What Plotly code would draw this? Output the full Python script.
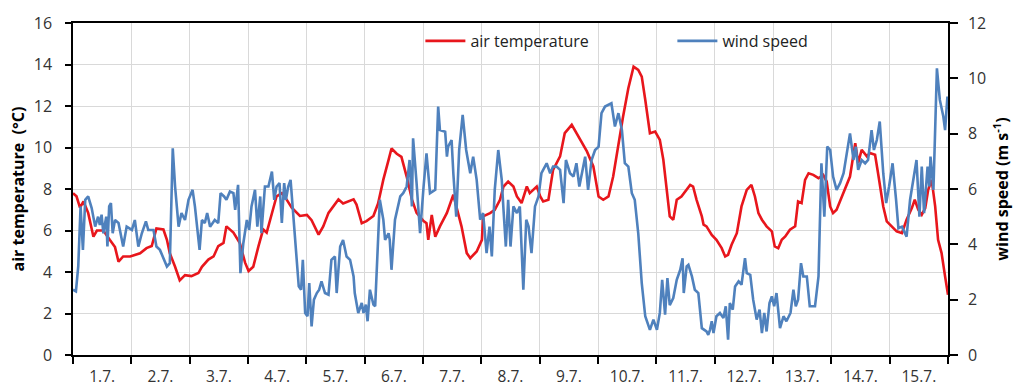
import pandas as pd
import plotly.graph_objects as go

# ---------------- data ----------------
start_date = "2013-07-01"
end_date = "2013-07-16"

temp_days = [0.00, 0.06, 0.12, 0.18, 0.26, 0.35, 0.41, 0.52, 0.63, 0.72, 0.78, 0.86, 0.98,
             1.15, 1.26, 1.35, 1.43, 1.55, 1.61, 1.66, 1.75, 1.83, 1.92, 2.03, 2.15, 2.21,
             2.32, 2.41, 2.49, 2.58, 2.63, 2.75, 2.86, 2.95, 3.01, 3.09, 3.18, 3.26, 3.32,
             3.41, 3.49, 3.58, 3.66, 3.75, 3.89, 4.01, 4.09, 4.21, 4.29, 4.38,
             4.55, 4.63, 4.72, 4.81, 4.86, 4.95, 5.03, 5.15, 5.23, 5.32, 5.41, 5.46, 5.55,
             5.63, 5.72, 5.81, 5.89, 6.01, 6.06, 6.09, 6.15, 6.21, 6.29, 6.41, 6.52, 6.66,
             6.75, 6.81, 6.92, 7.01, 7.03, 7.15, 7.23, 7.32, 7.38, 7.46, 7.55, 7.61, 7.69,
             7.78, 7.83, 7.95, 8.01, 8.06, 8.15, 8.23, 8.35, 8.43, 8.55, 8.63, 8.72, 8.81,
             8.92, 9.01, 9.09, 9.18, 9.26, 9.35, 9.43, 9.52, 9.61, 9.69, 9.75, 9.81, 9.89,
             9.98, 10.06, 10.12, 10.18, 10.23, 10.29, 10.35, 10.43, 10.52, 10.58, 10.63,
             10.69, 10.78, 10.81, 10.86, 10.95, 11.03, 11.12, 11.18, 11.23, 11.29, 11.38,
             11.46, 11.55, 11.63, 11.69, 11.75, 11.81, 11.89, 11.98, 12.03, 12.09, 12.15,
             12.21, 12.29, 12.38, 12.43, 12.49, 12.55, 12.61, 12.69, 12.78, 12.86, 12.92,
             12.98, 13.03, 13.09, 13.18, 13.23, 13.32, 13.41, 13.46, 13.52, 13.61, 13.66,
             13.75, 13.81, 13.89, 13.95, 14.03, 14.12, 14.21, 14.29, 14.38, 14.43, 14.49,
             14.55, 14.61, 14.66, 14.72, 14.78, 14.83, 14.89, 14.95, 15.00]
temp_values = [7.8, 7.65, 7.1, 7.4, 6.85, 5.7, 6.0, 6.0, 5.55, 5.2, 4.5, 4.75, 4.75,
               4.9, 5.15, 5.25, 6.1, 6.05, 5.55, 4.9, 4.25, 3.6, 3.85, 3.8, 3.95, 4.25,
               4.6, 4.75, 5.25, 5.4, 6.2, 5.9, 5.4, 4.45, 4.05, 4.25, 5.25, 6.05, 5.9,
               6.85, 7.65, 7.8, 7.5, 7.1, 6.7, 6.75, 6.5, 5.8, 6.2, 6.85,
               7.5, 7.3, 7.4, 7.5, 7.25, 6.35, 6.45, 6.7, 7.3, 8.45, 9.4, 9.95, 9.7,
               9.55, 8.6, 7.5, 6.85, 6.45, 6.35, 5.55, 6.75, 5.7, 6.2, 6.85, 7.72, 6.2,
               4.91, 4.67, 4.99, 5.55, 6.68, 6.84, 7.0, 7.48, 8.12, 8.36, 8.12, 7.64, 7.32,
               8.12, 7.8, 8.12, 7.64, 7.4, 7.48, 8.92, 9.57, 10.69, 11.09, 10.69, 10.21, 9.81,
               9.09, 7.64, 7.48, 7.64, 8.6, 10.21, 11.49, 12.86, 13.9, 13.74, 13.42, 12.3, 10.69,
               10.77, 10.37, 9.41, 7.8, 6.68, 6.52, 7.48, 7.64, 7.96, 8.2, 8.12,
               7.48, 6.68, 6.28, 6.2, 5.79, 5.55, 5.15, 4.75, 4.83, 5.31, 5.87,
               7.16, 7.96, 8.2, 7.64, 6.84, 6.52, 6.2, 5.96, 5.23, 5.15, 5.55,
               5.71, 6.04, 6.2, 7.4, 7.32, 8.44, 8.76, 8.68, 8.52, 8.68, 8.36,
               7.16, 6.84, 7.0, 7.64, 7.96, 8.6, 10.21, 9.25, 9.89, 9.57, 9.73,
               9.65, 8.6, 7.16, 6.44, 6.2, 5.96, 5.87, 6.52, 7.08, 7.48, 7.0,
               6.76, 7.08, 7.96, 8.44, 7.16, 5.55, 4.91, 3.79, 2.9]

wind_days = [0.00, 0.05, 0.09, 0.13, 0.17, 0.21, 0.26, 0.32, 0.38, 0.43, 0.46, 0.49, 0.52,
             0.57, 0.59, 0.62, 0.65, 0.68, 0.72, 0.78, 0.86, 0.92, 1.01, 1.06, 1.12, 1.18,
             1.25, 1.29, 1.38, 1.43, 1.49, 1.55, 1.61, 1.66, 1.71, 1.75, 1.81, 1.86, 1.92,
             1.98, 2.05, 2.09, 2.17, 2.21, 2.26, 2.30, 2.35, 2.43, 2.49, 2.53, 2.59, 2.63,
             2.69, 2.75, 2.78, 2.83, 2.87, 2.92, 2.98, 3.02, 3.06, 3.12, 3.16, 3.21, 3.23,
             3.29, 3.35, 3.41, 3.45, 3.49, 3.54, 3.58, 3.62, 3.65, 3.69, 3.73, 3.78, 3.83,
             3.87, 3.91, 3.94, 3.98, 4.02, 4.05, 4.09, 4.13, 4.18, 4.22, 4.26, 4.32, 4.38,
             4.43, 4.49, 4.52, 4.58, 4.63, 4.69, 4.75, 4.81, 4.83, 4.89, 4.95, 4.98, 5.02,
             5.05, 5.09, 5.15, 5.18, 5.23, 5.26, 5.32, 5.35, 5.41, 5.43, 5.46, 5.52, 5.61,
             5.66, 5.72, 5.77, 5.81, 5.83, 5.89, 5.95, 6.01, 6.06, 6.12, 6.21, 6.26, 6.29,
             6.38, 6.41, 6.43, 6.49, 6.52, 6.57, 6.62, 6.68, 6.74, 6.81, 6.86, 6.92, 6.98,
             7.03, 7.09, 7.14, 7.18, 7.23, 7.29, 7.35, 7.38, 7.42, 7.46, 7.50, 7.55, 7.61,
             7.66, 7.72, 7.77, 7.81, 7.86, 7.92, 7.98, 8.03, 8.12, 8.18, 8.23, 8.29, 8.35,
             8.41, 8.45, 8.52, 8.58, 8.63, 8.68, 8.72, 8.78, 8.83, 8.89, 8.95, 9.01, 9.06,
             9.12, 9.23, 9.29, 9.35, 9.41, 9.46, 9.52, 9.58, 9.63, 9.69, 9.75, 9.81, 9.89,
             9.95, 10.01, 10.06, 10.10, 10.15, 10.19, 10.23, 10.29, 10.35, 10.41, 10.45,
             10.47, 10.52, 10.55, 10.61, 10.66, 10.72, 10.78, 10.86, 10.89, 10.92, 10.95,
             10.98, 11.03, 11.09, 11.15, 11.19, 11.23, 11.26, 11.31, 11.35, 11.41, 11.46,
             11.52, 11.55, 11.61, 11.66, 11.72, 11.77, 11.81, 11.85, 11.89, 11.94, 11.98,
             12.02, 12.06, 12.12, 12.18, 12.23, 12.30, 12.35, 12.39, 12.43, 12.48, 12.52,
             12.58, 12.63, 12.72, 12.78, 12.83, 12.88, 12.93, 12.98, 13.03, 13.09, 13.15,
             13.21, 13.26, 13.32, 13.38, 13.42, 13.46, 13.52, 13.58, 13.63, 13.69, 13.73,
             13.78, 13.83, 13.89, 13.94, 13.99, 14.05, 14.11, 14.15, 14.21, 14.29, 14.35,
             14.41, 14.46, 14.51, 14.55, 14.59, 14.65, 14.68, 14.70, 14.75, 14.81, 14.86,
             14.92, 14.95, 14.99, 15.00]
wind_values = [2.36, 2.3, 3.2, 5.37, 3.8, 5.61, 5.73, 5.31, 4.64, 5.0, 4.7, 5.07, 4.4,
               5.0, 3.92, 5.37, 5.49, 4.4, 4.88, 4.77, 3.92, 4.64, 4.52, 4.88, 3.92, 4.4,
               4.83, 4.52, 4.52, 3.92, 3.8, 3.5, 3.2, 3.32, 7.47, 6.09, 4.64, 5.13, 4.88,
               5.61, 5.97, 5.37, 3.8, 4.88, 4.77, 5.13, 4.64, 4.88, 4.77, 5.85, 5.73, 5.61,
               5.91, 5.85, 5.25, 6.15, 2.96, 4.04, 4.88, 4.52, 5.37, 5.97, 4.64, 5.73, 4.4,
               6.09, 6.09, 6.63, 5.61, 6.09, 6.21, 4.77, 6.21, 5.61, 6.09, 6.33, 5.0, 3.68,
               2.48, 2.36, 3.44, 1.52, 1.4, 2.6, 1.03, 2.0, 2.24, 2.36, 2.66, 2.24, 2.18,
               3.44, 3.56, 2.24, 3.92, 4.16, 3.56, 3.44, 2.84, 2.24, 1.52, 1.88, 1.52, 1.82,
               1.22, 2.36, 1.82, 1.76, 4.4, 5.61, 4.89, 4.16, 4.4, 4.16, 3.08, 4.89, 5.73,
               5.85, 6.09, 7.05, 5.37, 7.83, 6.21, 4.4, 6.09, 7.29, 5.85, 5.97, 8.98, 8.13,
               8.07, 7.17, 7.53, 7.77, 6.57, 5.0, 7.41, 8.68, 7.41, 6.57, 7.17, 6.33, 4.89,
               5.13, 3.68, 4.64, 3.56, 5.97, 7.41, 6.33, 5.25, 3.92, 5.61, 3.92, 5.37, 5.13,
               5.37, 2.36, 4.89, 4.64, 3.68, 5.37, 5.73, 6.57, 6.93, 6.57, 6.81, 6.81, 6.69,
               5.49, 7.05, 6.57, 6.45, 6.93, 6.09, 6.57, 7.17, 5.97, 7.05, 7.41, 7.53, 8.74,
               8.98, 9.1, 8.26, 8.74, 8.13, 6.93, 6.81, 5.85, 5.61, 4.4, 2.6, 1.4, 0.91,
               1.28, 0.91, 1.52, 2.72, 1.46, 2.78, 1.8, 2.06, 2.72, 3.08, 3.5,
               2.24, 3.2, 3.26, 2.84, 2.36, 2.24, 0.97, 0.85, 0.73, 0.91, 1.22,
               0.79, 1.4, 1.52, 1.34, 1.76, 0.55, 1.88, 1.64, 2.48, 2.66, 2.54,
               3.5, 2.96, 2.9, 2.0, 1.28, 1.64, 0.79, 1.52, 0.85, 1.88, 2.12,
               1.76, 2.24, 0.97, 1.4, 1.22, 1.52, 2.36, 1.76, 2.0, 3.32, 2.84,
               2.84, 1.76, 1.76, 2.84, 6.93, 5.0, 7.53, 7.41, 6.45, 5.97, 6.21,
               6.57, 7.29, 8.01, 7.05, 7.53, 6.69, 7.05, 6.93, 7.05, 8.13, 7.41,
               7.77, 8.44, 6.57, 5.49, 6.09, 6.93, 5.61, 4.58, 4.64, 4.28, 5.61,
               6.33, 7.05, 5.0, 6.81, 5.13, 6.81, 6.09, 7.17, 5.97, 10.36, 9.22,
               8.62, 8.13, 9.34, 8.86]

temp_name = "air temperature"
wind_name = "wind speed"
temp_title = "<b>air temperature  (°C)</b>"
wind_title = "<b>wind speed (m s<sup>-1</sup>)</b>"
temp_range = [0, 16]
wind_range = [0, 12]

# ---------------- figure ----------------
base = pd.Timestamp(start_date)
temp_x = base + pd.to_timedelta(temp_days, unit="D")
wind_x = base + pd.to_timedelta(wind_days, unit="D")

FONT = "Open Sans, Noto Sans, DejaVu Sans, sans-serif"
RED = "#E8161C"
BLUE = "#4F81BD"

fig = go.Figure()
fig.add_trace(go.Scatter(x=temp_x, y=temp_values, name=temp_name, mode="lines",
                         line=dict(color=RED, width=2.6), yaxis="y", legend="legend"))
fig.add_trace(go.Scatter(x=wind_x, y=wind_values, name=wind_name, mode="lines",
                         line=dict(color=BLUE, width=2.6), yaxis="y2", legend="legend2"))

tickfont = dict(family=FONT, size=16, color="#333333")
xtickfont = dict(family=FONT, size=15.5, color="#333333")
legfont = dict(family=FONT, size=16, color="#222222")

fig.update_layout(
    width=1013, height=390,
    margin=dict(l=73, r=65, t=23, b=35, autoexpand=False),
    paper_bgcolor="white", plot_bgcolor="white",
    font=dict(family=FONT, size=16, color="#222222"),
    xaxis=dict(
        type="date", range=[start_date, end_date], automargin=False,
        tick0=start_date, dtick=86400000, tickformat="%-d.%-m.",
        ticklabelmode="period",
        ticks="outside", ticklen=7, tickwidth=1.5, tickcolor="black",
        showline=True, linecolor="black", linewidth=1.5, mirror=True,
        showgrid=True, gridcolor="#D9D9D9", gridwidth=1,
        tickfont=xtickfont, ticklabelstandoff=0,
    ),
    yaxis=dict(
        range=temp_range, dtick=2, tick0=0, automargin=False,
        ticks="outside", ticklen=6, tickwidth=1.5, tickcolor="black",
        showline=True, linecolor="black", linewidth=1.5,
        showgrid=True, gridcolor="#D9D9D9", gridwidth=1, zeroline=False,
        tickfont=tickfont, ticklabelstandoff=10,
        title=dict(text=temp_title, font=dict(family=FONT, size=16, color="black"), standoff=5),
    ),
    yaxis2=dict(
        range=wind_range, dtick=2, tick0=0, overlaying="y", side="right", automargin=False,
        ticks="outside", ticklen=8, tickwidth=1.5, tickcolor="black",
        showline=True, linecolor="black", linewidth=1.5,
        showgrid=False, zeroline=False,
        tickfont=tickfont, ticklabelstandoff=7,
        title=dict(text=wind_title, font=dict(family=FONT, size=16, color="black"), standoff=12),
    ),
    legend=dict(x=0.397, y=0.946, xanchor="left", yanchor="middle",
                bgcolor="rgba(0,0,0,0)", font=legfont, itemwidth=40),
    legend2=dict(x=0.685, y=0.946, xanchor="left", yanchor="middle",
                 bgcolor="rgba(0,0,0,0)", font=legfont, itemwidth=40),
    shapes=[dict(type="rect", xref="paper", yref="paper",
                 x0=0.305, x1=0.951, y0=0.904, y1=0.985,
                 fillcolor="white", line=dict(width=0), layer="between")],
    showlegend=True,
)

fig.write_html("out.html")
